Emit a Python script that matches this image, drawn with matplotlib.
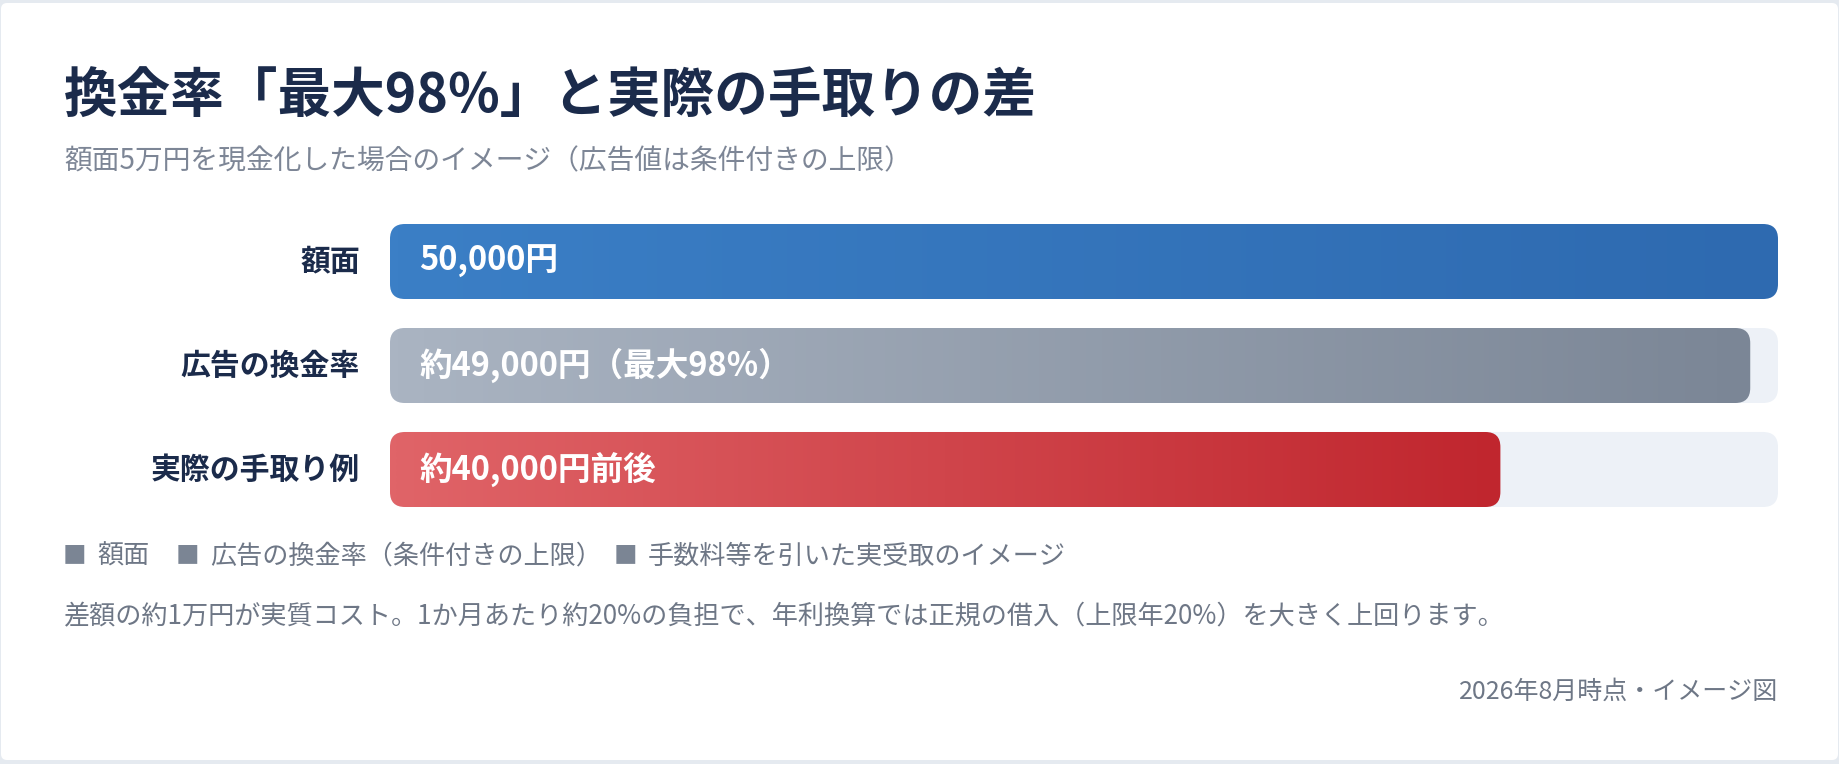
import numpy as np
import matplotlib
matplotlib.use("Agg")
import matplotlib.pyplot as plt
from matplotlib.patches import FancyBboxPatch
from matplotlib.colors import LinearSegmentedColormap

plt.rcParams['font.family'] = ['Noto Sans CJK JP', 'DejaVu Sans']

# データ（額面5万円の例）
categories = ['額面', '広告の換金率', '実際の手取り例']
values = [50000, 49000, 40000]
value_labels = ['50,000円', '約49,000円（最大98%）', '約40,000円前後']
face_value = 50000
legend_labels = ['額面', '広告の換金率（条件付きの上限）', '手数料等を引いた実受取のイメージ']

title = '換金率「最大98%」と実際の手取りの差'
subtitle = '額面5万円を現金化した場合のイメージ（広告値は条件付きの上限）'
note = '差額の約1万円が実質コスト。1か月あたり約20%の負担で、年利換算では正規の借入（上限年20%）を大きく上回ります。'
footer = '2026年8月時点・イメージ図'

# 色
navy = '#1b2b4b'
gray_text = '#6e7786'
track_color = '#edf1f7'
gradients = [('#3b7fc6', '#2e6ab0'), ('#aab4c2', '#7b8696'), ('#e06468', '#c0262e')]

W, H = 1840, 764
fig = plt.figure(figsize=(W / 100, H / 100), dpi=100)
fig.patch.set_facecolor('#e5eaf0')

# 背景（カード）用の座標系：ピクセル単位
bg = fig.add_axes([0, 0, 1, 1], zorder=0)
bg.set_xlim(0, W)
bg.set_ylim(H, 0)
bg.axis('off')
card = FancyBboxPatch((1, 3), 1837, 757, boxstyle='round,pad=0,rounding_size=6',
                      facecolor='white', edgecolor='none')
bg.add_patch(card)

bg.text(64, 97, title, fontsize=38.6, fontweight='bold', color=navy, va='center', ha='left')
bg.text(64, 161, subtitle, fontsize=20, color='#7d8696', va='center', ha='left')
bg.text(64, 617, note, fontsize=18.8, color=gray_text, va='center', ha='left')
bg.text(1778, 692, footer, fontsize=18, color=gray_text, va='center', ha='right')

# 棒グラフ
bar_h = 0.7212
ax = fig.add_axes([390 / W, 1 - 507 / H, 1388 / W, 283 / H], zorder=1)
ax.set_xlim(0, face_value)
ax.set_ylim(2 + bar_h / 2, -bar_h / 2)
ax.axis('off')

# 角丸の縦横比補正
p0 = ax.transData.transform((0, 0))
p1 = ax.transData.transform((1000, 1))
xu_per_px = 1000 / abs(p1[0] - p0[0])
yu_per_px = 1 / abs(p1[1] - p0[1])
aspect = yu_per_px / xu_per_px
radius = 15 * xu_per_px

grad = np.linspace(0, 1, 256).reshape(1, -1)
for i, (cat, v, lab) in enumerate(zip(categories, values, value_labels)):
    y0 = i - bar_h / 2
    track = FancyBboxPatch((0, y0), face_value, bar_h,
                           boxstyle=f'round,pad=0,rounding_size={radius}',
                           mutation_aspect=aspect, facecolor=track_color,
                           edgecolor='none', zorder=1)
    ax.add_patch(track)
    bar = FancyBboxPatch((0, y0), v, bar_h,
                         boxstyle=f'round,pad=0,rounding_size={radius}',
                         mutation_aspect=aspect, facecolor='none',
                         edgecolor='none', transform=ax.transData)
    cmap = LinearSegmentedColormap.from_list(f'g{i}', gradients[i])
    im = ax.imshow(grad, cmap=cmap, aspect='auto', extent=(0, v, i + bar_h / 2, y0),
                   interpolation='bilinear', zorder=2)
    im.set_clip_path(bar)

    ax.annotate(cat, xy=(0, i), xytext=(-30, 0), textcoords='offset pixels',
                ha='right', va='center', fontsize=21.5, fontweight='bold', color=navy)
    ax.annotate(lab, xy=(0, i), xytext=(29, 0), textcoords='offset pixels',
                ha='left', va='center', fontsize=23.5, fontweight='bold', color='white',
                zorder=3)

ax.set_xlim(0, face_value)
ax.set_ylim(2 + bar_h / 2, -bar_h / 2)

# 凡例（■ + テキスト）
legend_x = [65, 178, 616]
for lx, lab in zip(legend_x, legend_labels):
    bg.text(lx - 2, 556, '■', fontsize=17, color='#7b8594', va='center', ha='left')
    bg.text(lx + 32, 556, lab, fontsize=18.8, color=gray_text, va='center', ha='left')

fig.savefig('out.png', dpi=100, facecolor=fig.get_facecolor())
